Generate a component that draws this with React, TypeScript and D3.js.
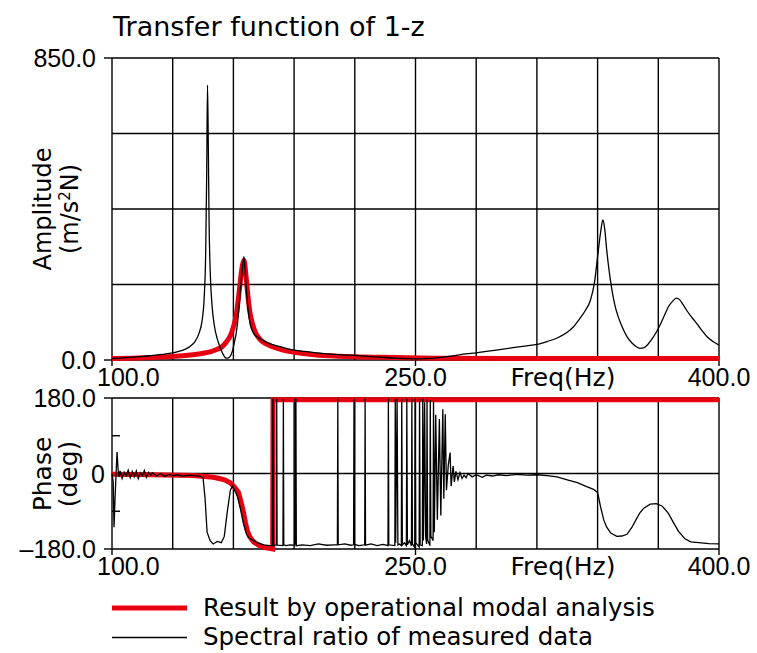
import React, { useEffect, useRef } from 'react';
import * as d3 from 'd3';

// grid / tick values
const gridFreqs = [100, 130, 160, 190, 220, 250, 280, 310, 340, 370, 400];
const freqLabels = [100, 250, 400];
const ampGrid = [0, 212.5, 425, 637.5, 850];
const ampLabels = [0, 850];
const phaseGrid = [-180, 0, 180];
const phaseLabels = [-180, 0, 180];
const phaseMinor = [-90, 90];

// amplitude, spectral ratio of measured data [Hz, m/s2N]
const measuredAmp: [number, number][] = [
  [100, 4], [105, 6], [110, 8], [115, 10], [120, 13], [125, 16], [130, 20], [133, 24], [136, 30],
  [139, 40], [141, 52], [143, 75], [144.5, 110], [145.5, 170], [146.3, 300], [146.8, 520], [147.2, 774],
  [147.6, 600], [148, 380], [148.6, 240], [149.5, 150], [150.5, 100], [152, 60], [153.5, 35], [155, 15],
  [156.5, 5], [158, 8], [159.5, 25], [160.5, 50], [161.5, 80], [162.5, 130], [163.5, 200], [164.5, 260],
  [165.2, 291], [165.8, 250], [166.5, 190], [167.3, 140], [168.3, 100], [170, 75], [172, 64], [175, 54],
  [178, 46], [182, 39], [186, 33], [190, 28], [195, 24], [200, 21], [205, 18], [210, 16], [215, 14],
  [220, 13], [225, 11], [230, 9], [235, 7], [240, 5], [245, 4], [250, 3], [255, 4], [260, 6], [265, 9],
  [270, 13], [275, 17], [280, 20], [285, 24], [290, 28], [295, 32], [300, 36], [305, 40], [310, 44],
  [315, 52], [320, 62], [325, 78], [328, 93], [331, 115], [334, 140], [336.5, 169], [338.5, 220],
  [340, 291], [341.5, 360], [342.6, 394], [343.5, 370], [344.5, 310], [345.5, 260], [347, 200],
  [348.5, 155], [350, 125], [352, 95], [354.5, 66], [357, 48], [359, 38], [361, 33], [363, 35],
  [365, 45], [367, 60], [369, 78], [371, 100], [373, 125], [375, 150], [377, 165], [379, 174],
  [380.5, 170], [382, 158], [384, 140], [386, 124], [388, 110], [390, 95], [392, 80], [394, 66],
  [397, 52], [400, 42]
];

// amplitude, operational modal analysis result
const modalAmp: [number, number][] = [
  [100, 4], [110, 5], [120, 7], [130, 10], [135, 12], [140, 15], [145, 19], [148.5, 23], [152, 30],
  [154.5, 38], [156.7, 52], [158.5, 68], [160, 93], [161.5, 130], [162.5, 175], [163.5, 225],
  [164.5, 268], [165.2, 281], [166, 250], [167, 190], [168, 140], [169.5, 100], [171, 76], [173, 59],
  [176, 46], [180, 36], [185, 27], [190, 22], [200, 15], [210, 11], [220, 9], [240, 7], [260, 5],
  [300, 4], [350, 4], [400, 4]
];

// phase, spectral ratio of measured data [Hz, deg]
const measuredPhase: [number, number][] = [
  [100, 0], [100.6, -20], [101, -128], [101.5, -60], [102, 0], [102.5, 51], [103, 10], [103.5, -8],
  [104, 6], [105, -12], [106, 3], [107, -6], [108, 8], [109, -10], [110, 5], [111, -8], [112, 6],
  [113, -12], [114, 2], [115, -5], [116, 7], [117, -9], [118, 3], [119, -4], [120, 2], [122, -6],
  [124, 0], [126, -7], [128, -2], [130, -5], [132, -3], [135, -6], [138, -4], [141, -5], [143, -6],
  [145, -10], [146, -60], [147, -140], [148.5, -160], [150, -168], [152, -162], [154, -165],
  [155.5, -150], [157, -90], [158.5, -40], [159.5, -30], [160.5, -38], [162, -55], [163.5, -85],
  [165, -120], [166.5, -145], [168, -155], [170, -160], [172, -165], [175, -170], [178, -172],
  [179.3, -172], [179.5, 178], [179.8, -172], [181.2, -170], [181.4, 178], [181.6, -171],
  [184.5, -172], [184.7, 178], [184.9, -170], [186, -172], [188, -170], [190.3, -171], [190.5, 178],
  [190.7, -170], [190.9, 178], [191.1, -172], [194, -170], [198, -172], [202, -168], [206, -171],
  [210, -170], [211.4, -170], [211.6, 178], [211.8, -170], [215, -168], [218, -171], [219.4, -170],
  [219.6, 178], [219.8, -169], [222, -172], [224.9, -170], [225.1, 178], [225.3, -171], [228, -168],
  [231, -172], [234, -169], [236.4, -172], [236.6, 178], [236.8, -170], [238, -171], [239.8, -172],
  [240, 178], [240.2, -165], [240.9, 178], [241.3, -170], [242, -168], [243, -172], [243.2, 178],
  [243.5, -170], [244.5, -165], [245.5, -172], [245.7, 178], [246, -170], [247, -160], [248, -172],
  [248.2, 178], [248.5, -168], [249.6, -176], [249.8, 178], [250.1, -165], [251, -170], [251.8, -175],
  [252, 178], [252.3, -170], [253.4, -172], [253.6, 178], [253.9, -160], [254.5, 170], [255, -150],
  [255.5, -168], [255.7, 176], [256, -158], [257.1, -172], [257.3, 175], [257.6, -150], [258.7, -160],
  [258.9, 174], [259.3, -140], [260, 140], [260.8, -110], [261.8, 130], [262.5, -100], [263.5, 153],
  [264, -60], [264.7, 141], [265.3, -40], [266.2, 20], [267.1, 50], [267.6, -30], [268.6, 18],
  [269.2, -20], [270, 5], [271, -15], [272, 2], [273, -12], [274, -4], [275, -10], [276, 0], [278, -8],
  [280, -3], [283, -9], [285, -4], [288, -6], [291, -3], [295, -5], [300, -2], [305, -4], [310, -3],
  [315, -5], [320, -8], [325, -15], [330, -22], [334, -30], [338, -38], [340, -45], [341.5, -80],
  [343, -110], [344.5, -128], [346.5, -142], [349.5, -150], [352, -149], [354.5, -145], [357, -128],
  [359, -110], [361, -93], [363, -82], [366, -73], [369, -72], [372, -78], [375, -95], [377.5, -117],
  [380, -138], [383, -155], [386, -163], [390, -165], [395, -167], [400, -168]
];

// phase, operational modal analysis result
const modalPhase: [number, number][] = [
  [100, -2], [120, -3], [140, -5], [146, -7], [150, -9], [153, -12], [156, -16], [158.4, -22],
  [160.5, -32], [162.5, -45], [163.8, -68], [165, -93], [166, -118], [166.8, -135], [168, -150],
  [170, -163], [172.5, -171], [175, -176], [179.4, -180], [179.6, 176], [250, 176], [400, 176]
];

const RED = '#e60012';
const LABEL_FONT = '"Liberation Sans", Arial, sans-serif';
const TEXT_FONT = '"DejaVu Sans", sans-serif';

const App: React.FC = () => {
  const svgRef = useRef<SVGSVGElement>(null);

  useEffect(() => {
    if (!svgRef.current) return;
    const svg = d3.select(svgRef.current);
    svg.selectAll('*').remove();

    const x = d3.scaleLinear().domain([100, 400]).range([112, 719]);
    const yAmp = d3.scaleLinear().domain([0, 850]).range([360, 58]);
    const yPh = d3.scaleLinear().domain([-180, 180]).range([549, 398]);

    // title
    svg.append('text').attr('x', 113).attr('y', 36).style('font-family', TEXT_FONT).style('font-size', '27px').text('Transfer function of 1-z');

    const drawPanel = (y: d3.ScaleLinear<number, number>, hGrid: number[], labels: number[], fmt: (d: number) => string) => {
      const [y0, y1] = y.range();
      const g = svg.append('g');
      // vertical grid
      g.selectAll('line.v').data(gridFreqs).enter().append('line').attr('x1', d => x(d)).attr('x2', d => x(d)).attr('y1', y1).attr('y2', y0).style('stroke', '#000').style('stroke-width', 1.4);
      // horizontal grid
      g.selectAll('line.h').data(hGrid).enter().append('line').attr('x1', x(100)).attr('x2', x(400)).attr('y1', d => y(d)).attr('y2', d => y(d)).style('stroke', '#000').style('stroke-width', 1.4);
      // left ticks at the ends of the axis
      g.selectAll('line.lt').data(labels.filter(d => d !== 0 || y === yAmp)).enter().append('line').attr('x1', 104).attr('x2', x(100)).attr('y1', d => y(d)).attr('y2', d => y(d)).style('stroke', '#000').style('stroke-width', 1.4);
      // bottom ticks
      g.selectAll('line.bt').data(freqLabels).enter().append('line').attr('x1', d => x(d)).attr('x2', d => x(d)).attr('y1', y0).attr('y2', y0 + 6).style('stroke', '#000').style('stroke-width', 1.4);
      // y tick labels
      g.selectAll('text.yl').data(labels).enter().append('text').attr('x', d => d === 0 && y === yPh ? 105 : 96).attr('y', d => y(d) + 9).attr('text-anchor', 'end').style('font-family', LABEL_FONT).style('font-size', '25px').text(d => fmt(d));
      // x tick labels
      g.selectAll('text.xl').data(freqLabels).enter().append('text').attr('x', (d, i) => i === 0 ? 97 : x(d)).attr('y', y0 + 26).attr('text-anchor', (d, i) => i === 0 ? 'start' : 'middle').style('font-family', LABEL_FONT).style('font-size', '25px').text(d => d.toFixed(1));
      g.append('text').attr('x', 563).attr('y', y0 + 26).attr('text-anchor', 'middle').style('font-family', TEXT_FONT).style('font-size', '25px').text('Freq(Hz)');
    };

    drawPanel(yAmp, ampGrid, ampLabels, d => d.toFixed(1));
    drawPanel(yPh, phaseGrid, phaseLabels, d => (d === 0 ? '0' : d.toFixed(1).replace('-', '\u2013')));

    // minor phase ticks
    svg.selectAll('line.minor').data(phaseMinor).enter().append('line').attr('x1', x(100)).attr('x2', x(100) + 8).attr('y1', d => yPh(d)).attr('y2', d => yPh(d)).style('stroke', '#000').style('stroke-width', 1.4);

    // y axis titles
    const ampLabel = svg.append('g').attr('transform', 'translate(0,209) rotate(-90)').style('font-family', TEXT_FONT).style('font-size', '24px').attr('text-anchor', 'middle');
    ampLabel.append('text').attr('x', 0).attr('y', 51).text('Amplitude');
    const unit = ampLabel.append('text').attr('x', 0).attr('y', 78);
    unit.append('tspan').text('(m/s');
    unit.append('tspan').attr('dy', -8).style('font-size', '15px').text('2');
    unit.append('tspan').attr('dy', 8).text('N)');

    const phLabel = svg.append('g').attr('transform', 'translate(0,474) rotate(-90)').style('font-family', TEXT_FONT).style('font-size', '25px').attr('text-anchor', 'middle');
    phLabel.append('text').attr('x', 0).attr('y', 51).text('Phase');
    phLabel.append('text').attr('x', 0).attr('y', 77).text('(deg)');

    // curves
    const ampLine = d3.line<[number, number]>().x(d => x(d[0])).y(d => yAmp(d[1]));
    const phLine = d3.line<[number, number]>().x(d => x(d[0])).y(d => yPh(d[1]));

    svg.append('path').datum(modalAmp).attr('d', ampLine.curve(d3.curveMonotoneX)).style('fill', 'none').style('stroke', RED).style('stroke-width', 5).style('stroke-linejoin', 'round');
    svg.append('path').datum(measuredAmp).attr('d', ampLine.curve(d3.curveMonotoneX)).style('fill', 'none').style('stroke', '#000').style('stroke-width', 1.3);

    svg.append('path').datum(modalPhase).attr('d', phLine.curve(d3.curveLinear)).style('fill', 'none').style('stroke', RED).style('stroke-width', 5);
    svg.append('path').datum(measuredPhase).attr('d', phLine.curve(d3.curveLinear)).style('fill', 'none').style('stroke', '#000').style('stroke-width', 1.3);

    // legend
    const legend = svg.append('g').style('font-family', TEXT_FONT).style('font-size', '24.5px');
    legend.append('line').attr('x1', 112).attr('x2', 187).attr('y1', 608).attr('y2', 608).style('stroke', RED).style('stroke-width', 5);
    legend.append('text').attr('x', 203).attr('y', 616).text('Result by operational modal analysis');
    legend.append('line').attr('x1', 112).attr('x2', 187).attr('y1', 637.5).attr('y2', 637.5).style('stroke', '#000').style('stroke-width', 1.5);
    legend.append('text').attr('x', 203).attr('y', 645).text('Spectral ratio of measured data');
  }, []);

  return <svg ref={svgRef} width={757} height={653} style={{ position: 'absolute', left: 0, top: 0, display: 'block', background: '#fff' }} />;
};

export default App;
